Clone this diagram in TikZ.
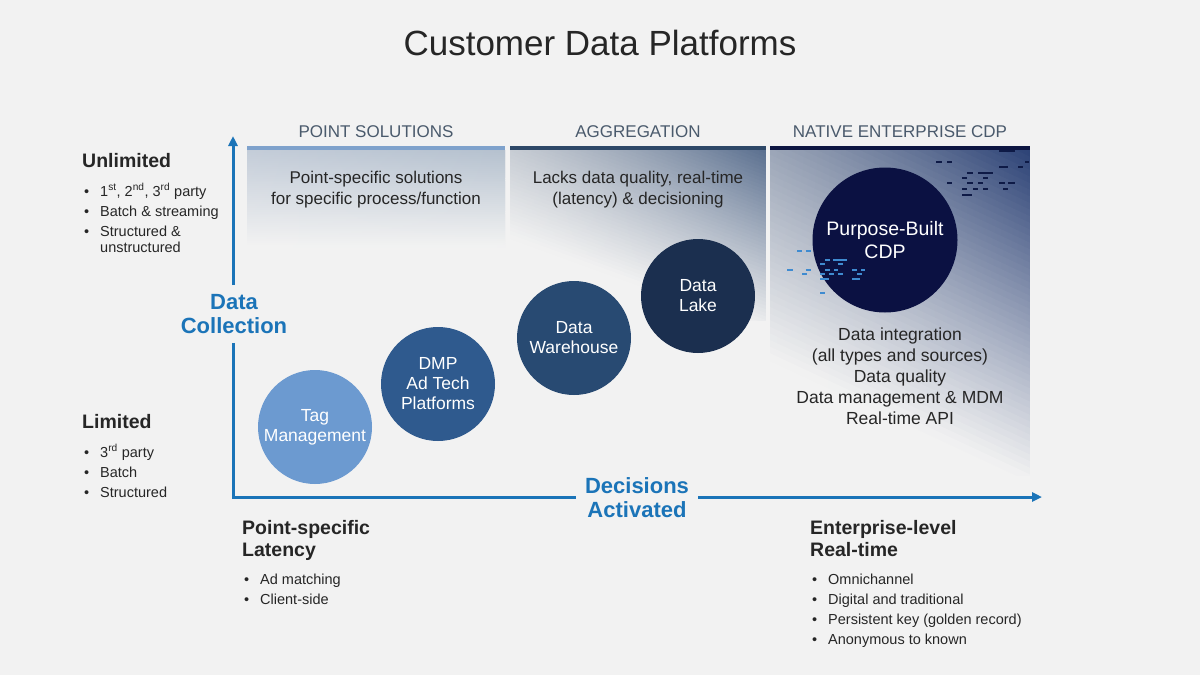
\documentclass[tikz,border=0pt]{standalone}
\usepackage{fontspec}
\setmainfont{Liberation Sans}
\usetikzlibrary{arrows.meta}
\definecolor{bg}{HTML}{F2F2F2}
\definecolor{ink}{HTML}{262626}
\definecolor{hdrink}{HTML}{4A5A6C}
\definecolor{axisblue}{HTML}{1B74B8}
\definecolor{barA}{HTML}{7FA2CC}
\definecolor{barB}{HTML}{2E4868}
\definecolor{barC}{HTML}{0D1642}
\definecolor{cTag}{HTML}{6C9AD0}
\definecolor{cDmp}{HTML}{2F5A8E}
\definecolor{cDw}{HTML}{284A72}
\definecolor{cDl}{HTML}{1B2F4F}
\definecolor{cCdp}{HTML}{0B1142}
\definecolor{dashNavy}{HTML}{0E1A46}
\definecolor{dashBlue}{HTML}{3F8BD0}
\definecolor{shAl}{HTML}{C3CCD8}
\definecolor{shAr}{HTML}{B4C0CE}
\definecolor{shBl}{HTML}{9AA5B4}
\definecolor{shBr}{HTML}{5A6F8F}
\definecolor{shCl}{HTML}{6A7A96}
\definecolor{shCr}{HTML}{2C4276}
% panel with a linear fade: #1,#2 top-left, #3,#4 bottom-right, #5 angle, #6 fade length, #7 left colour, #8 right colour
\newcommand\mypanel[8]{%
  \begin{scope}
  \clip (#1,#2) rectangle (#3,#4);
  \pgfmathsetmacro\mysn{sin(#5)}%
  \pgfmathsetmacro\mycs{cos(#5)}%
  \pgfmathsetmacro\mywd{#3-#1}%
  \pgfmathsetmacro\myya{#2+(-1000-\mysn*\mywd)/\mycs}%
  \pgfmathsetmacro\myyb{#2+(0.5-\mysn*\mywd)/\mycs}%
  \pgfmathsetmacro\myyc{#2-1000/\mycs}%
  \pgfmathsetmacro\myyd{#2+0.5/\mycs}%
  \shade[left color=#7, right color=#8] (#1,\myya) -- (#3,\myyc) -- (#3,\myyd) -- (#1,\myyb) -- cycle;
  \foreach \i in {0,...,49}{%
    \pgfmathsetmacro\mysa{\i*(#6/50)}%
    \pgfmathsetmacro\mysb{(\i+1)*(#6/50)+0.8}%
    \pgfmathsetmacro\mypc{100*(1-(\i+0.5)/50)}%
    \pgfmathsetmacro\myya{#2+(\mysa-\mysn*\mywd)/\mycs}%
    \pgfmathsetmacro\myyb{#2+(\mysb-\mysn*\mywd)/\mycs}%
    \pgfmathsetmacro\myyc{#2+\mysa/\mycs}%
    \pgfmathsetmacro\myyd{#2+\mysb/\mycs}%
    \shade[left color=#7!\mypc!bg, right color=#8!\mypc!bg] (#1,\myya) -- (#3,\myyc) -- (#3,\myyd) -- (#1,\myyb) -- cycle;
  }%
  \end{scope}}
\newcommand\mytabc[1]{\begin{tabular}[t]{@{}c@{}}#1\end{tabular}}
\newcommand\mytabl[1]{\begin{tabular}[t]{@{}l@{}}#1\end{tabular}}
\newcommand\mybul[1]{\begin{tabular}[t]{@{}p{16pt}@{}l@{}}#1\end{tabular}}
\begin{document}
\begin{tikzpicture}[x=1pt,y=-1pt,
  every node/.style={inner sep=0pt},
  ttl/.style={text=ink, font=\fontsize{35}{40}\selectfont, anchor=base},
  hdr/.style={text=hdrink, font=\fontsize{17}{20}\selectfont, anchor=base},
  desc/.style={text=ink, font=\fontsize{17}{21}\selectfont, anchor=base},
  cdplist/.style={text=ink, font=\fontsize{17.5}{21}\selectfont, anchor=base},
  bubble/.style={circle, minimum size=114pt, inner sep=0pt, text=white, align=center, font=\fontsize{17.5}{20}\selectfont},
  axlab/.style={text=axisblue, align=center, font=\bfseries\fontsize{22}{24}\selectfont},
  head/.style={text=ink, anchor=base west, font=\bfseries\fontsize{19.5}{22}\selectfont},
  blist/.style={text=ink, anchor=base west, font=\fontsize{14.5}{20}\selectfont},
  axisline/.style={draw=axisblue, line width=3pt},
  dashnavy/.style={draw=dashNavy, line width=2.4pt},
  dashblue/.style={draw=dashBlue, line width=2.4pt},
]
\useasboundingbox (0,0) rectangle (1200,675);
\fill[bg] (0,0) rectangle (1200,675);

% title
\node[ttl] (title) at (600,55) {Customer Data Platforms};

% column panels
\mypanel{247}{150}{505}{250}{0}{97}{shAl}{shAr}
\mypanel{510}{150}{766}{320}{20}{170}{shBl}{shBr}
\mypanel{770}{150}{1030}{475}{25}{300}{shCl}{shCr}
\fill[barA] (247,146) rectangle (505,150);
\fill[barB] (510,146) rectangle (766,150);
\fill[barC] (770,146) rectangle (1030,150);

% headers
\node[hdr] (h1) at (376,137) {POINT SOLUTIONS};
\node[hdr] (h2) at (638,137) {AGGREGATION};
\node[hdr] (h3) at (900,137) {NATIVE ENTERPRISE CDP};

\node[desc] (d1) at (376,183) {\mytabc{Point-specific solutions\\for specific process/function}};
\node[desc] (d2) at (638,183) {\mytabc{Lacks data quality, real-time\\(latency) \& decisioning}};

% dashes (navy, upper right)
\foreach \a/\b/\y in {936/942/162,947/952/162,999/1015/151,967/973/173,978/993/173,999/1008/167,1018/1023/167,1025/1029/162,962/967/178,983/988/178,947/952/183,967/973/183,978/983/183,999/1005/183,1008/1015/183,962/967/189,973/978/189,983/988/189,1003/1008/189,962/972/195}
  \draw[dashnavy] (\a,\y) -- (\b,\y);

% circles
\node[bubble, fill=cTag] (tag) at (315,427) {Tag\\Management};
\node[bubble, fill=cDmp] (dmp) at (438,384) {DMP\\Ad Tech\\Platforms};
\node[bubble, fill=cDw] (dw) at (574,338) {Data\\Warehouse};
\node[bubble, fill=cDl] (dl) at (698,296) {Data\\Lake};
\node[bubble, fill=cCdp, minimum size=145pt, font=\fontsize{19.5}{23}\selectfont] (cdp) at (885,240) {Purpose-Built\\CDP};

% dashes (blue, lower left)
\foreach \a/\b/\y in {797/802/251,806/811/251,825/830/260,833/847/260,820/825/264,838/843/264,787/793/270,806/811/270,825/830/270,834/838/270,852/857/270,861/865/270,802/807/274,820/825/274,829/834/274,838/843/274,857/862/274,820/829/279,852/860/279,820/825/293}
  \draw[dashblue] (\a,\y) -- (\b,\y);

\node[cdplist] (cdpl) at (900,340) {\mytabc{Data integration\\(all types and sources)\\Data quality\\Data management \& MDM\\Real-time API}};

% axes
\coordinate (origin) at (233,497);
\coordinate (ytop) at (233,136);
\coordinate (xend) at (1042,497);
\node[axlab, inner xsep=4pt, inner ysep=9pt] (dc) at (234,314) {Data\\Collection};
\node[axlab, inner xsep=9pt, inner ysep=2pt] (da) at (637,498) {Decisions\\Activated};
\draw[axisline] (origin |- dc.south) -- (origin) -- (origin -| da.west);
\draw[axisline, -{Triangle[length=10pt,width=9pt]}] (origin |- dc.north) -- (ytop);
\draw[axisline, -{Triangle[length=10pt,width=9pt]}] (da.east |- origin) -- (xend);

% left side
\node[head] (unl) at (82,167) {Unlimited};
\node[blist] (unll) at (84,196) {\mybul{\textbullet & 1\textsuperscript{st}, 2\textsuperscript{nd}, 3\textsuperscript{rd} party\\
\textbullet & Batch \& streaming\\
\textbullet & Structured \&\\[-4pt]
 & unstructured}};
\node[head] (lim) at (82,428) {Limited};
\node[blist] (liml) at (84,457) {\mybul{\textbullet & 3\textsuperscript{rd} party\\
\textbullet & Batch\\
\textbullet & Structured}};

% bottom
\node[head] (psl) at (242,534) {\mytabl{Point-specific\\Latency}};
\node[blist] (psll) at (244,584) {\mybul{\textbullet & Ad matching\\
\textbullet & Client-side}};
\node[head] (elr) at (810,534) {\mytabl{Enterprise-level\\Real-time}};
\node[blist] (elrl) at (812,584) {\mybul{\textbullet & Omnichannel\\
\textbullet & Digital and traditional\\
\textbullet & Persistent key (golden record)\\
\textbullet & Anonymous to known}};
\end{tikzpicture}
\end{document}
